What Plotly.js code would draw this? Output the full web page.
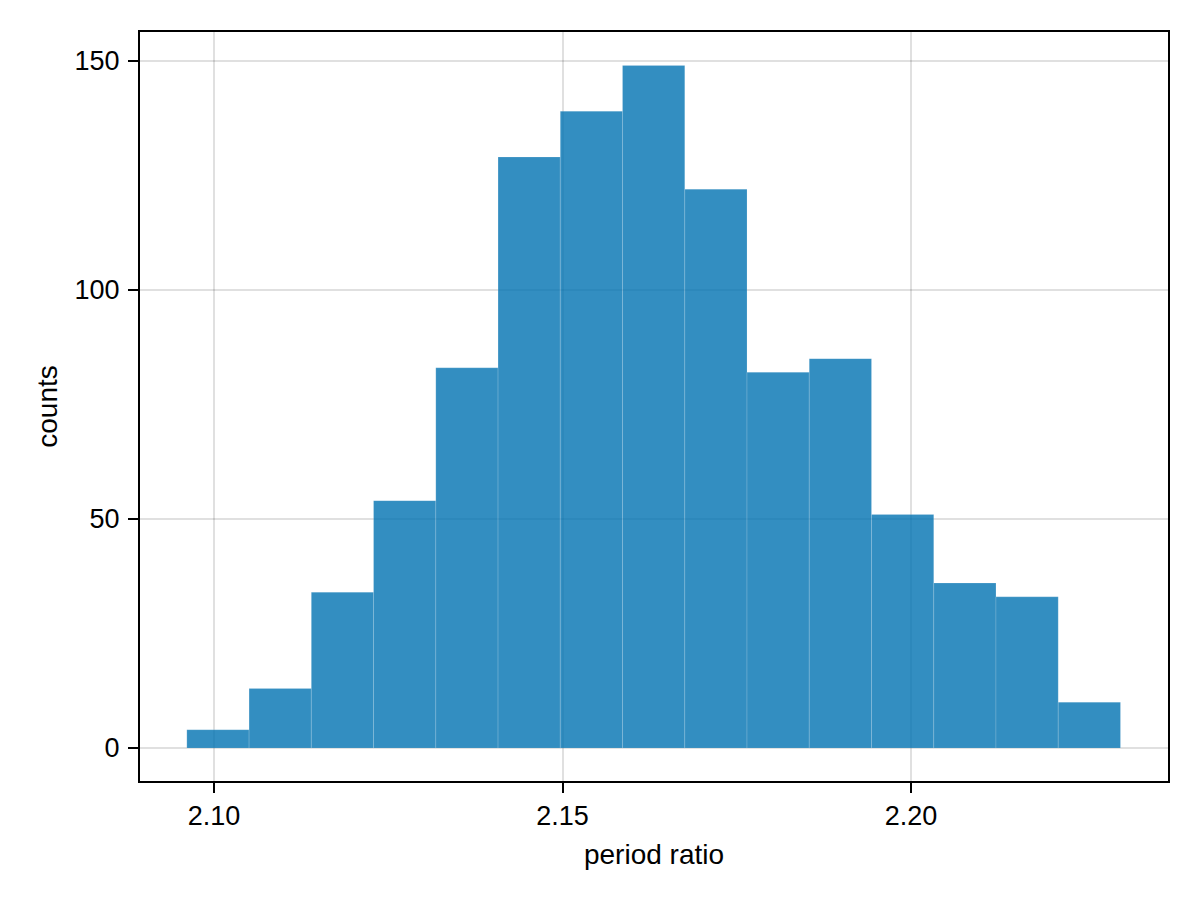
<!DOCTYPE html>
<html>
<head>
<meta charset="utf-8">
<script src="https://cdn.plot.ly/plotly-3.0.1.min.js"></script>
<style>html,body{margin:0;padding:0;background:#fff;}#chart{width:1200px;height:900px;}</style>
</head>
<body>
<div id="chart"></div>
<script>
// Histogram data
const binStart = 2.0961;
const binWidth = 0.00893;
const counts = [4, 13, 34, 54, 83, 129, 139, 149, 122, 82, 85, 51, 36, 33, 10];
const xTickVals = [2.10, 2.15, 2.20];
const xTickText = ["2.10", "2.15", "2.20"];
const yTickVals = [0, 50, 100, 150];
const yTickText = ["0", "50", "100", "150"];

const centers = counts.map((_, i) => binStart + (i + 0.5) * binWidth);

const trace = {
  type: 'bar',
  x: centers,
  y: counts,
  width: counts.map(() => binWidth),
  marker: {
    color: 'rgba(0,114,178,0.8)',
    line: {color: 'rgba(255,255,255,0.25)', width: 0.6}
  },
  hoverinfo: 'x+y'
};

const fontFamily = '"Liberation Sans", Arial, "DejaVu Sans", sans-serif';
const fs = 27;
const tfs = 28;

const layout = {
  width: 1200,
  height: 900,
  margin: {l: 140, r: 32, t: 32, b: 119},
  paper_bgcolor: '#ffffff',
  plot_bgcolor: '#ffffff',
  showlegend: false,
  bargap: 0,
  font: {family: fontFamily, size: fs, color: '#000'},
  xaxis: {
    range: [2.08938, 2.23687],
    tickvals: xTickVals,
    ticktext: xTickText,
    ticks: 'outside',
    ticklen: 10,
    tickwidth: 2,
    tickcolor: '#000',
    ticklabelstandoff: 0,
    showgrid: true,
    gridcolor: 'rgba(0,0,0,0.12)',
    gridwidth: 2,
    zeroline: false,
    showline: true,
    linecolor: '#000',
    linewidth: 2,
    mirror: true,
    automargin: false,
    tickfont: {family: fontFamily, size: fs, color: '#000'},
    title: {text: 'period ratio', font: {family: fontFamily, size: tfs, color: '#000'}, standoff: 14}
  },
  yaxis: {
    range: [-7.2, 156.3],
    tickvals: yTickVals,
    ticktext: yTickText,
    ticks: 'outside',
    ticklen: 10,
    tickwidth: 2,
    tickcolor: '#000',
    ticklabelstandoff: 3,
    showgrid: true,
    gridcolor: 'rgba(0,0,0,0.12)',
    gridwidth: 2,
    zeroline: false,
    showline: true,
    linecolor: '#000',
    linewidth: 2,
    mirror: true,
    automargin: false,
    tickfont: {family: fontFamily, size: fs, color: '#000'},
    title: {text: 'counts', font: {family: fontFamily, size: tfs, color: '#000'}, standoff: 9}
  }
};

Plotly.newPlot('chart', [trace], layout, {displayModeBar: false, staticPlot: true});
</script>
</body>
</html>
